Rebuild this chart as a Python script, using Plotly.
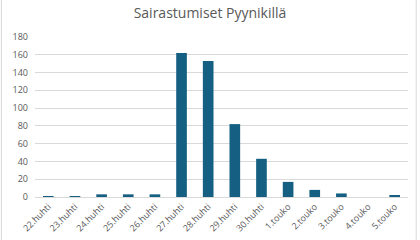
import plotly.graph_objects as go

categories = ["22.huhti", "23.huhti", "24.huhti", "25.huhti", "26.huhti", "27.huhti",
              "28.huhti", "29.huhti", "30.huhti", "1.touko", "2.touko", "3.touko",
              "4.touko", "5.touko"]
values = [1, 1, 3, 3, 3, 162, 153, 82, 43, 17, 8, 4, 0, 2]
y_ticks = list(range(0, 181, 20))
title = "Sairastumiset Pyynikillä"

fig = go.Figure(go.Bar(x=categories, y=values, marker_color="#156082",
                       marker_line_width=0))

fig.update_layout(
    width=420, height=240,
    margin=dict(l=35, r=12, t=37, b=43, autoexpand=False),
    paper_bgcolor="white", plot_bgcolor="white",
    bargap=0.6,
    showlegend=False,
    font=dict(family="Open Sans", color="#595959"),
    title=dict(text=title, x=0.5, xanchor="center", y=0.945, yanchor="middle",
               font=dict(size=14, color="#595959", family="Open Sans")),
    shapes=[dict(type="rect", xref="paper", yref="paper",
                 x0=-0.09, x1=1.022, y0=-0.5, y1=1.3,
                 line=dict(color="#d9d9d9", width=1), layer="below")],
)
fig.update_xaxes(tickangle=-45, tickfont=dict(size=9, color="#595959"),
                 showline=True, linecolor="#d9d9d9", linewidth=1, ticks="",
                 showgrid=False, automargin=False)
fig.update_yaxes(range=[0, 180], tickvals=y_ticks, tickfont=dict(size=9, color="#595959"),
                 showgrid=True, gridcolor="#d9d9d9", gridwidth=1, zeroline=False,
                 ticks="", ticklabelstandoff=6, automargin=False)

fig.write_html("out.html")
